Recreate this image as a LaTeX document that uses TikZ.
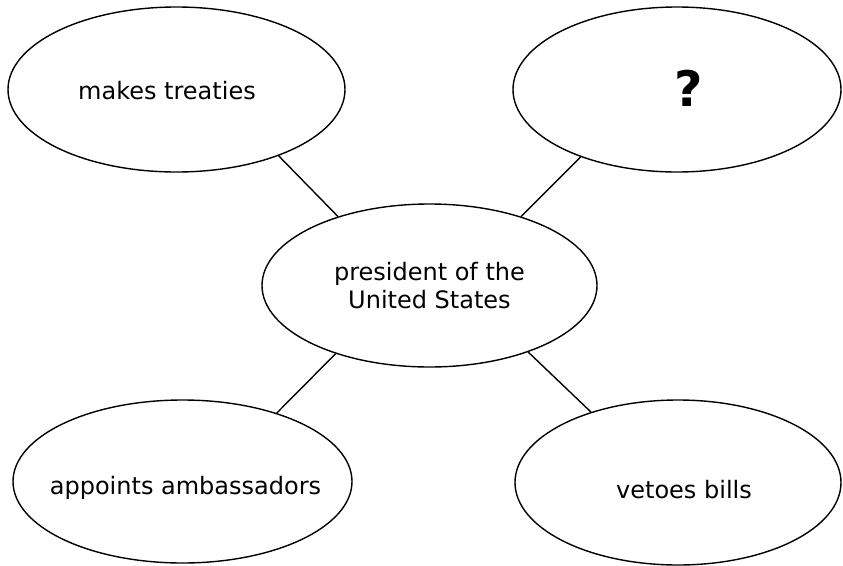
\documentclass[tikz,border=0pt]{standalone}
\usepackage{fontspec}
\setmainfont{DejaVu Sans}
\usetikzlibrary{shapes.geometric}
\begin{document}
\begin{tikzpicture}[x=1pt,y=-1pt,
  bubble/.style={draw=black, line width=1.4pt, ellipse, inner sep=0pt},
  txt/.style={font=\fontsize{24}{28}\selectfont, align=center, inner sep=0pt},
  link/.style={draw=black, line width=1.4pt}]
\useasboundingbox (0,0) rectangle (843,565);
\node[bubble, minimum width=337pt, minimum height=165pt,
  label={[txt, xshift=-9.5pt, yshift=-1.5pt]center:makes treaties}] (tl) at (176.5,89.5) {};
\node[bubble, minimum width=328pt, minimum height=165pt,
  label={[txt, xshift=11.5pt, yshift=1.5pt, font=\fontsize{49}{52}\selectfont\bfseries]center:?}] (tr) at (677,89.5) {};
\node[bubble, minimum width=335pt, minimum height=163pt,
  label={[txt]center:president of the\\United States}] (c) at (429.5,285.5) {};
\node[bubble, minimum width=339pt, minimum height=163pt,
  label={[txt, xshift=3pt, yshift=-6pt]center:appoints ambassadors}] (bl) at (182.5,481.5) {};
\node[bubble, minimum width=326pt, minimum height=165pt,
  label={[txt, xshift=6pt, yshift=-7.5pt]center:vetoes bills}] (br) at (678,482.5) {};
\draw[link] (tl.-33.9) -- (c.143.8);
\draw[link] (tr.215.3) -- (c.37.2);
\draw[link] (bl.36.9) -- (c.216.2);
\draw[link] (br.141) -- (c.-34.2);
\end{tikzpicture}
\end{document}
